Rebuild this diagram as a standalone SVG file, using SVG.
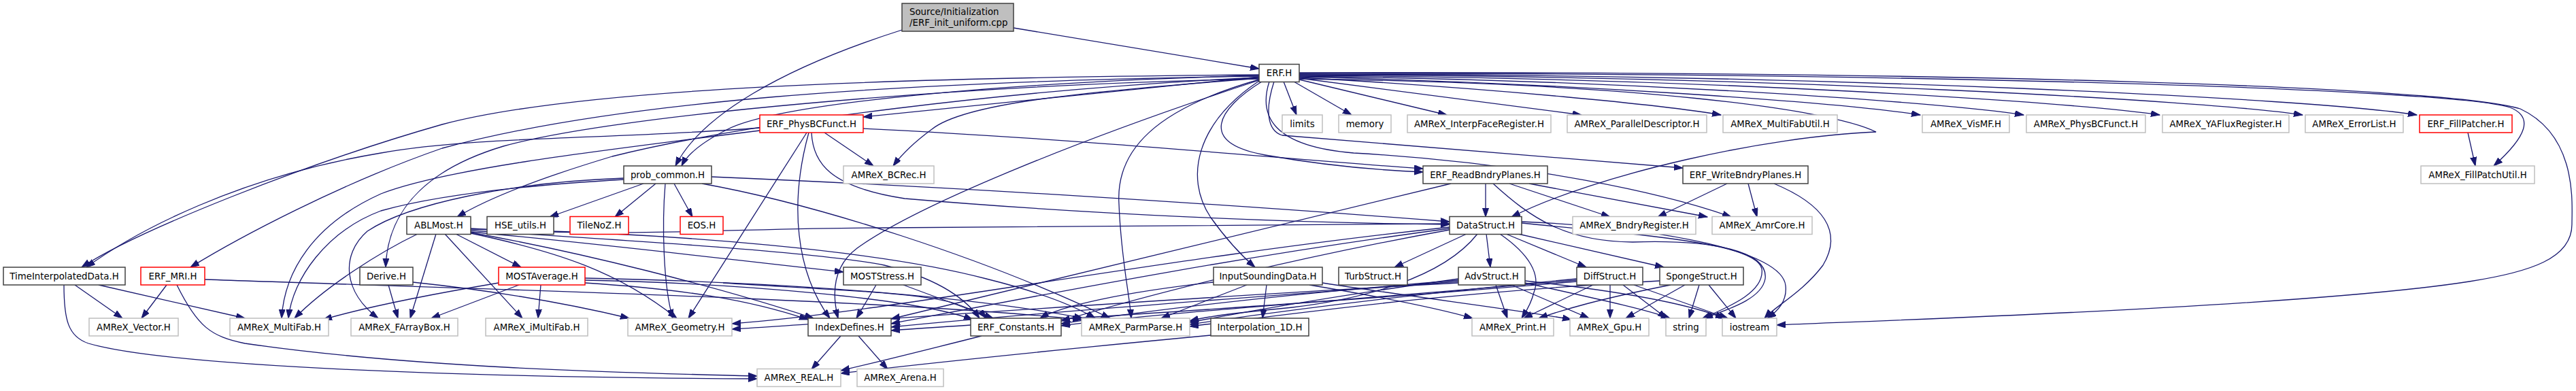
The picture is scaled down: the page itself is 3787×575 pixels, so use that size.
<svg xmlns="http://www.w3.org/2000/svg" width="3787" height="575" viewBox="0 0 3787 575">
<style>
rect{fill:#fff;stroke-width:1.5}
.b rect{stroke:#404040}.g rect{stroke:#bfbfbf}.r rect{stroke:#ff0000}
.t rect{fill:#bfbfbf;stroke:#404040}
text{font-family:"DejaVu Sans",sans-serif;font-size:13.33px;text-anchor:middle;fill:#000}
#edges path{fill:none;stroke:#191970;stroke-width:1.3;marker-end:url(#a)}
</style>
<defs><marker id="a" markerWidth="14" markerHeight="10" refX="13" refY="4.5" orient="auto" markerUnits="userSpaceOnUse"><path d="M0,0 L13,4.5 L0,9 z" fill="#191970" stroke="#191970" stroke-width="1"/></marker></defs>
<rect x="0" y="0" width="3787" height="575" style="fill:#fff;stroke:none"/>
<g id="edges">
<path d="M1490,41 L1851,101"/>
<path d="M1326,44 C1150,100 1030,170 993,244"/>
<path d="M1887,120 L1906,169"/>
<path d="M1902,120 L1987,169"/>
<path d="M1910,117 L2127,169"/>
<path d="M1910,115 L2325,169"/>
<path d="M1910,114 C2200,130 2450,155 2530,169"/>
<path d="M1910,113 C2300,122 2700,150 2823,169"/>
<path d="M1910,112 C2400,118 2850,150 2975,169"/>
<path d="M1910,111 C2500,114 3050,150 3175,169"/>
<path d="M1910,110 C2600,111 3250,148 3385,169"/>
<path d="M1910,109 C2700,109 3400,145 3553,169"/>
<path d="M1910,108 C2800,107 3600,130 3690,158 C3725,172 3715,200 3666,244"/>
<path d="M1910,107 C2900,104 3600,128 3705,160 C3790,200 3781,300 3781,330 C3781,380 3720,400 3630,414 C3400,450 2800,470 2612,478"/>
<path d="M1910,116 C2400,122 2690,160 2758,194 C2600,200 2350,255 2222,319"/>
<path d="M1866,120 C1850,170 1870,215 1990,225 C2250,240 2450,285 2545,319"/>
<path d="M1855,120 C1790,160 1760,210 1860,228 C1950,244 2020,250 2092,253"/>
<path d="M1873,120 C1860,160 1862,192 1885,199 L2474,247"/>
<path d="M1851,119 C1760,180 1740,260 1780,320 C1805,355 1830,380 1845,393"/>
<path d="M1851,117 C1700,160 1640,220 1645,300 C1648,380 1660,430 1663,468"/>
<path d="M1851,118 C1600,200 1350,300 1260,365 C1220,395 1225,440 1232,468"/>
<path d="M1851,115 C1600,135 1420,150 1370,190 C1340,212 1325,228 1313,244"/>
<path d="M1851,113 C1650,135 1450,155 1269,172"/>
<path d="M1851,111 C1500,120 1150,150 1070,190 C1030,210 1010,228 1002,244"/>
<path d="M1851,114 C1500,130 1100,180 900,230 C800,260 720,290 672,319"/>
<path d="M1851,116 C1400,125 900,170 740,215 C640,245 570,300 567,393"/>
<path d="M1851,112 C1300,120 900,150 650,218 C500,270 350,350 280,393"/>
<path d="M1851,110 C1300,114 850,130 650,183 C450,240 200,340 120,393"/>
<path d="M1117,188 C900,205 700,200 560,225 C350,260 200,340 127,393"/>
<path d="M1117,192 C850,225 650,250 560,285 C460,330 418,400 414,468"/>
<path d="M1186,195 L1012,468"/>
<path d="M1189,195 C1160,300 1170,400 1220,468"/>
<path d="M1193,195 C1195,240 1220,275 1330,292 C1600,315 1900,328 2131,330"/>
<path d="M1212,195 L1284,244"/>
<path d="M1269,189 C1600,205 1900,235 2092,248"/>
<path d="M946,270 L808,319"/>
<path d="M964,270 L904,319"/>
<path d="M991,270 L1018,319"/>
<path d="M978,270 C973,330 975,420 989,468"/>
<path d="M917,264 C780,272 650,285 560,310 C480,340 430,410 424,468"/>
<path d="M917,262 C750,268 600,300 540,340 C500,375 505,430 556,468"/>
<path d="M1046,260 C1400,275 1800,300 2131,326"/>
<path d="M1032,270 C1200,300 1450,380 1632,468"/>
<path d="M614,344 C560,370 480,420 433,468"/>
<path d="M641,344 L603,468"/>
<path d="M654,344 L768,468"/>
<path d="M670,344 L766,393"/>
<path d="M692,343 C820,370 910,400 995,468"/>
<path d="M692,341 C900,360 1100,385 1240,400"/>
<path d="M692,342 C850,370 1050,420 1196,468"/>
<path d="M692,339 C900,352 1200,370 1300,390 C1380,410 1420,440 1440,468"/>
<path d="M692,337 C1000,342 1300,370 1450,410 C1530,430 1580,450 1610,468"/>
<path d="M692,336 C900,350 1100,335 1300,335 C1700,333 1950,330 2131,329"/>
<path d="M763,419 L634,468"/>
<path d="M795,419 L791,468"/>
<path d="M733,416 C650,430 550,448 475,470"/>
<path d="M860,416 C1000,425 1100,440 1188,470"/>
<path d="M860,412 C1100,417 1350,440 1430,470"/>
<path d="M860,409 C1200,416 1450,440 1592,468"/>
<path d="M1288,419 L1259,468"/>
<path d="M1328,419 L1460,468"/>
<path d="M571,419 L585,468"/>
<path d="M607,415 C750,430 850,450 925,468"/>
<path d="M245,419 L208,468"/>
<path d="M260,419 C290,480 310,495 360,505 C600,540 900,548 1113,553"/>
<path d="M301,411 C700,425 1300,440 1590,470"/>
<path d="M110,419 L180,468"/>
<path d="M145,419 L360,468"/>
<path d="M94,419 C94,470 100,495 130,505 C250,540 700,555 1113,557"/>
<path d="M1063,416 C1200,425 1350,430 1400,445 C1430,455 1445,462 1450,468"/>
<path d="M2184,270 L2184,319"/>
<path d="M2219,270 L2367,319"/>
<path d="M2248,270 L2510,319"/>
<path d="M2133,270 L1310,469"/>
<path d="M2195,270 C2250,320 2300,355 2400,356 C2520,352 2600,370 2595,410 C2590,440 2540,455 2505,468"/>
<path d="M2539,270 L2437,319"/>
<path d="M2570,270 L2583,319"/>
<path d="M2608,270 C2680,300 2710,340 2680,390 C2650,430 2610,450 2594,468"/>
<path d="M3628,195 L3639,244"/>
<path d="M1236,494 L1193,543"/>
<path d="M1262,494 L1305,543"/>
<path d="M1443,494 C1380,510 1300,530 1236,545"/>
<path d="M1780,493 C1600,510 1400,530 1236,549"/>
<path d="M1833,419 L1707,468"/>
<path d="M1862,419 L1856,468"/>
<path d="M1784,415 C1650,430 1560,450 1529,468"/>
<path d="M1925,419 C2050,440 2120,455 2165,468"/>
<path d="M1944,416 C2100,440 2250,458 2310,470"/>
<path d="M2156,344 L2050,393"/>
<path d="M2185,344 L2191,393"/>
<path d="M2214,344 L2332,393"/>
<path d="M2232,344 L2446,393"/>
<path d="M2205,344 C2250,375 2265,405 2255,430 C2250,450 2242,460 2237,468"/>
<path d="M2172,344 C2120,410 2000,440 1900,452 C1820,460 1780,464 1749,472"/>
<path d="M2131,338 C1900,380 1700,430 1560,472"/>
<path d="M2131,336 C1800,380 1500,440 1310,476"/>
<path d="M2131,334 C1700,380 1300,460 1076,476"/>
<path d="M2237,328 C2400,345 2580,355 2590,395 C2595,430 2540,452 2503,468"/>
<path d="M2237,326 C2450,335 2620,370 2625,420 C2628,445 2610,460 2598,468"/>
<path d="M2199,419 L2216,468"/>
<path d="M2222,419 L2336,468"/>
<path d="M2242,416 C2350,440 2420,455 2455,468"/>
<path d="M2242,413 C2400,430 2490,450 2535,468"/>
<path d="M2144,410 C2000,430 1850,455 1749,474"/>
<path d="M2144,412 C1900,432 1700,455 1560,476"/>
<path d="M2144,414 C1800,440 1500,462 1310,481"/>
<path d="M2144,416 C1700,440 1300,470 1076,484"/>
<path d="M2342,419 L2240,468"/>
<path d="M2367,419 L2367,468"/>
<path d="M2386,419 L2450,468"/>
<path d="M2402,419 L2540,468"/>
<path d="M2318,410 C2100,430 1900,455 1749,477"/>
<path d="M2318,412 C2000,440 1700,460 1560,479"/>
<path d="M2318,414 C1900,450 1500,472 1310,486"/>
<path d="M2456,419 C2350,440 2300,455 2262,468"/>
<path d="M2477,419 L2390,468"/>
<path d="M2498,419 L2483,468"/>
<path d="M2512,419 L2552,468"/>
<path d="M2440,413 C2100,432 1900,462 1749,480"/>
</g>
<g id="n0" class="t"><rect x="1326" y="5" width="164" height="41"/><text x="1337" y="22" style="text-anchor:start">Source/Initialization</text><text x="1337" y="38" style="text-anchor:start">/ERF_init_uniform.cpp</text></g>
<g id="erf" class="b"><rect x="1851" y="94.5" width="59" height="26"/><text x="1880.5" y="112">ERF.H</text></g>
<g id="limits" class="g"><rect x="1885" y="169" width="59" height="26"/><text x="1914.5" y="186.7">limits</text></g>
<g id="memory" class="g"><rect x="1968" y="169" width="77" height="26"/><text x="2006.5" y="186.7">memory</text></g>
<g id="interpface" class="g"><rect x="2069" y="169" width="211" height="26"/><text x="2174.5" y="186.7">AMReX_InterpFaceRegister.H</text></g>
<g id="paralleldesc" class="g"><rect x="2304" y="169" width="205" height="26"/><text x="2406.5" y="186.7">AMReX_ParallelDescriptor.H</text></g>
<g id="multifabutil" class="g"><rect x="2533" y="169" width="168" height="26"/><text x="2617" y="186.7">AMReX_MultiFabUtil.H</text></g>
<g id="vismf" class="g"><rect x="2826" y="169" width="128" height="26"/><text x="2890" y="186.7">AMReX_VisMF.H</text></g>
<g id="amrexphysbc" class="g"><rect x="2979" y="169" width="175" height="26"/><text x="3066.5" y="186.7">AMReX_PhysBCFunct.H</text></g>
<g id="yaflux" class="g"><rect x="3179" y="169" width="186" height="26"/><text x="3272" y="186.7">AMReX_YAFluxRegister.H</text></g>
<g id="errorlist" class="g"><rect x="3389" y="169" width="144" height="26"/><text x="3461" y="186.7">AMReX_ErrorList.H</text></g>
<g id="fillpatcher" class="r"><rect x="3557" y="169" width="136" height="26"/><text x="3625" y="186.7">ERF_FillPatcher.H</text></g>
<g id="erfphysbc" class="r"><rect x="1117" y="169" width="152" height="26"/><text x="1193" y="186.7">ERF_PhysBCFunct.H</text></g>
<g id="probcommon" class="b"><rect x="917" y="244" width="129" height="26"/><text x="981.5" y="261.7">prob_common.H</text></g>
<g id="bcrec" class="g"><rect x="1240" y="244" width="133" height="26"/><text x="1306.5" y="261.7">AMReX_BCRec.H</text></g>
<g id="readbndry" class="b"><rect x="2092" y="244" width="183" height="26"/><text x="2183.5" y="261.7">ERF_ReadBndryPlanes.H</text></g>
<g id="writebndry" class="b"><rect x="2474" y="244" width="184" height="26"/><text x="2566" y="261.7">ERF_WriteBndryPlanes.H</text></g>
<g id="fillpatchutil" class="g"><rect x="3559" y="244" width="167" height="26"/><text x="3642.5" y="261.7">AMReX_FillPatchUtil.H</text></g>
<g id="ablmost" class="b"><rect x="598" y="318.5" width="94" height="26"/><text x="645" y="336.2">ABLMost.H</text></g>
<g id="hseutils" class="b"><rect x="716" y="318.5" width="98" height="26"/><text x="765" y="336.2">HSE_utils.H</text></g>
<g id="tilenoz" class="r"><rect x="838" y="318.5" width="86" height="26"/><text x="881" y="336.2">TileNoZ.H</text></g>
<g id="eos" class="r"><rect x="1000" y="318.5" width="63" height="26"/><text x="1031.5" y="336.2">EOS.H</text></g>
<g id="datastruct" class="b"><rect x="2131" y="318.5" width="106" height="26"/><text x="2184" y="336.2">DataStruct.H</text></g>
<g id="bndryregister" class="g"><rect x="2312" y="318.5" width="181" height="26"/><text x="2402.5" y="336.2">AMReX_BndryRegister.H</text></g>
<g id="amrcore" class="g"><rect x="2517" y="318.5" width="147" height="26"/><text x="2590.5" y="336.2">AMReX_AmrCore.H</text></g>
<g id="timeinterp" class="b"><rect x="5" y="393" width="179" height="26"/><text x="94.5" y="410.7">TimeInterpolatedData.H</text></g>
<g id="erfmri" class="r"><rect x="207" y="393" width="94" height="26"/><text x="254" y="410.7">ERF_MRI.H</text></g>
<g id="derive" class="b"><rect x="529" y="393" width="78" height="26"/><text x="568" y="410.7">Derive.H</text></g>
<g id="mostaverage" class="r"><rect x="733" y="393" width="127" height="26"/><text x="796.5" y="410.7">MOSTAverage.H</text></g>
<g id="moststress" class="b"><rect x="1240" y="393" width="114" height="26"/><text x="1297" y="410.7">MOSTStress.H</text></g>
<g id="inputsounding" class="b"><rect x="1784" y="393" width="160" height="26"/><text x="1864" y="410.7">InputSoundingData.H</text></g>
<g id="turbstruct" class="b"><rect x="1968" y="393" width="101" height="26"/><text x="2018.5" y="410.7">TurbStruct.H</text></g>
<g id="advstruct" class="b"><rect x="2144" y="393" width="98" height="26"/><text x="2193" y="410.7">AdvStruct.H</text></g>
<g id="diffstruct" class="b"><rect x="2318" y="393" width="97" height="26"/><text x="2366.5" y="410.7">DiffStruct.H</text></g>
<g id="spongestruct" class="b"><rect x="2440" y="393" width="123" height="26"/><text x="2501.5" y="410.7">SpongeStruct.H</text></g>
<g id="vector" class="g"><rect x="131" y="468" width="131" height="26"/><text x="196.5" y="485.7">AMReX_Vector.H</text></g>
<g id="multifab" class="g"><rect x="338" y="468" width="145" height="26"/><text x="410.5" y="485.7">AMReX_MultiFab.H</text></g>
<g id="farraybox" class="g"><rect x="516" y="468" width="157" height="26"/><text x="594.5" y="485.7">AMReX_FArrayBox.H</text></g>
<g id="imultifab" class="g"><rect x="714" y="468" width="150" height="26"/><text x="789" y="485.7">AMReX_iMultiFab.H</text></g>
<g id="geometry" class="g"><rect x="923" y="468" width="153" height="26"/><text x="999.5" y="485.7">AMReX_Geometry.H</text></g>
<g id="indexdefines" class="b"><rect x="1188" y="468" width="122" height="26"/><text x="1249" y="485.7">IndexDefines.H</text></g>
<g id="erfconstants" class="b"><rect x="1427" y="468" width="133" height="26"/><text x="1493.5" y="485.7">ERF_Constants.H</text></g>
<g id="parmparse" class="g"><rect x="1590" y="468" width="159" height="26"/><text x="1669.5" y="485.7">AMReX_ParmParse.H</text></g>
<g id="interp1d" class="b"><rect x="1780" y="468" width="144" height="26"/><text x="1852" y="485.7">Interpolation_1D.H</text></g>
<g id="print" class="g"><rect x="2164" y="468" width="120" height="26"/><text x="2224" y="485.7">AMReX_Print.H</text></g>
<g id="gpu" class="g"><rect x="2308" y="468" width="116" height="26"/><text x="2366" y="485.7">AMReX_Gpu.H</text></g>
<g id="string" class="g"><rect x="2449" y="468" width="59" height="26"/><text x="2478.5" y="485.7">string</text></g>
<g id="iostream" class="g"><rect x="2532" y="468" width="80" height="26"/><text x="2572" y="485.7">iostream</text></g>
<g id="real" class="g"><rect x="1113" y="542.5" width="123" height="26"/><text x="1174.5" y="560.2">AMReX_REAL.H</text></g>
<g id="arena" class="g"><rect x="1260" y="542.5" width="127" height="26"/><text x="1323.5" y="560.2">AMReX_Arena.H</text></g>
</svg>
